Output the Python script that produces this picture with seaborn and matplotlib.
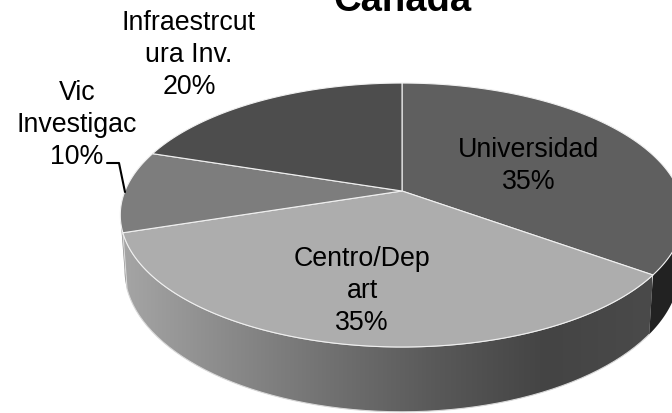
import numpy as np
import matplotlib
matplotlib.use('Agg')
import matplotlib.pyplot as plt
import seaborn as sns

title = 'Canada'
categories = ['Universidad', 'Centro/Dep\nart', 'Vic\nInvestigac', 'Infraestrcut\nura Inv.']
shares = [35, 35, 10, 20]
top_colors = ['#5f5f5f', '#adadad', '#7d7d7d', '#4d4d4d']
label_pos = [(529, 166), (362, 291), (77, 125), (189, 55)]

sns.set_theme(style='white')
plt.rcParams['font.family'] = ['Liberation Sans', 'DejaVu Sans']

# perspective of the tilted pie, measured in image pixels
cx, cy = 402, 191
rx, ry = 277, 127.6
k = 0.182
wall = 53


def project(deg):
    a = np.radians(deg)
    u, v = np.sin(a), np.cos(a)
    w = 1 + k * v
    return cx + rx * u / w, cy - ry * v / w


def project_low(deg):
    x, y = project(deg)
    # the lower rim sits slightly inside the upper one
    return cx + (x - cx) * 0.985, y + wall / (1 + k * np.cos(np.radians(deg)))


def wall_shape(start, end):
    t = np.linspace(start, end, 120)
    x1, y1 = project(t)
    x2, y2 = project_low(t[::-1])
    return np.r_[x1, x2], np.r_[y1, y2]


fig = plt.figure(figsize=(6.72, 4.13), dpi=100)
ax = fig.add_axes([0, 0, 1, 1])

edges = np.cumsum([0] + shares) * 3.6

# side walls
x, y = wall_shape(edges[2], edges[2] + 7.5)
ax.fill(x, y, color='#8a8a8a', lw=0)
ramp = sns.blend_palette(['#a5a5a5', '#8a8a8a', '#707070', '#585858', '#444444', '#4a4a4a'], as_cmap=True)
img = ax.imshow(np.linspace(0, 1, 256)[None, :], cmap=ramp, extent=(122, 652, 413, 200), aspect='auto', zorder=2)
poly, = ax.fill(*wall_shape(edges[1], edges[2]), color='none', lw=0)
img.set_clip_path(poly)
ax.fill(*wall_shape(edges[1] - 26, edges[1]), color='#222222', lw=0, zorder=2)
ax.plot(*wall_shape(edges[1], edges[2]), color='#d8d8d8', lw=0.8, zorder=3)

# top surface
for i, c in enumerate(top_colors):
    t = np.linspace(edges[i], edges[i + 1], 150)
    px, py = project(t)
    ax.fill(np.r_[cx, px], np.r_[cy, py], facecolor=c, edgecolor='#f0f0f0', lw=0.8, zorder=4)

for name, share, pos in zip(categories, shares, label_pos):
    ax.text(pos[0], pos[1], f'{name}\n{share}%', ha='center', va='center',
            fontsize=19.3, color='black', linespacing=1.32, zorder=6)

ax.plot([107, 119, 125], [163, 163, 192], color='black', lw=1.5, zorder=5)
ax.text(402, 11, title, ha='center', va='baseline', fontsize=27.5, fontweight='bold', color='black', zorder=6)

ax.set_xlim(0, 672)
ax.set_ylim(413, 0)
ax.axis('off')
fig.savefig('out.png', dpi=100)
